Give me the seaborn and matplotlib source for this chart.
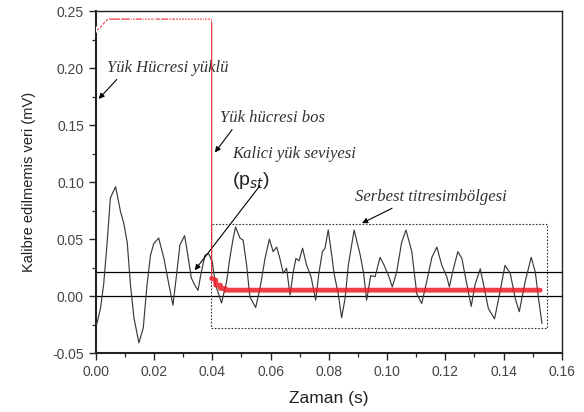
import numpy as np
import pandas as pd
import matplotlib
matplotlib.use('Agg')
import matplotlib.pyplot as plt
from matplotlib.patches import Rectangle
from matplotlib.ticker import MultipleLocator
import seaborn as sns

# black signal (time s, value mV)
sig_t = [0.0000, 0.0004, 0.0016, 0.0027, 0.0039, 0.0050, 0.0068, 0.0085, 0.0096, 0.0108,
         0.0119, 0.0131, 0.0148, 0.0163, 0.0176, 0.0188, 0.0199, 0.0216, 0.0234, 0.0245,
         0.0265, 0.0277, 0.0289, 0.0305, 0.0316, 0.0328, 0.0339, 0.0351, 0.0360, 0.0375,
         0.0388, 0.0400, 0.0411, 0.0432, 0.0449, 0.0460, 0.0472, 0.0480, 0.0495, 0.0506,
         0.0518, 0.0529, 0.0549, 0.0564, 0.0581, 0.0596, 0.0609, 0.0621, 0.0632, 0.0644,
         0.0655, 0.0667, 0.0678, 0.0687, 0.0698, 0.0710, 0.0724, 0.0739, 0.0755, 0.0766,
         0.0778, 0.0787, 0.0798, 0.0810, 0.0818, 0.0833, 0.0844, 0.0856, 0.0867, 0.0887,
         0.0907, 0.0919, 0.0930, 0.0944, 0.0959, 0.0976, 0.0990, 0.1005, 0.1018, 0.1033,
         0.1050, 0.1065, 0.1085, 0.1102, 0.1119, 0.1136, 0.1154, 0.1171, 0.1188, 0.1205,
         0.1214, 0.1225, 0.1243, 0.1257, 0.1268, 0.1289, 0.1302, 0.1320, 0.1334, 0.1348,
         0.1369, 0.1388, 0.1405, 0.1423, 0.1440, 0.1454, 0.1474, 0.1495, 0.1509, 0.1520,
         0.1532]
sig_v = [-0.025, -0.024, -0.011, 0.010, 0.047, 0.086, 0.096, 0.074, 0.064, 0.047,
         0.010, -0.019, -0.041, -0.028, 0.010, 0.036, 0.046, 0.051, 0.033, 0.018,
         -0.008, 0.018, 0.045, 0.053, 0.036, 0.016, 0.010, 0.005, 0.018, 0.036,
         0.037, 0.030, 0.010, -0.006, 0.0125, 0.033, 0.051, 0.0606, 0.051, 0.049,
         0.027, -0.0006, -0.010, 0.007, 0.033, 0.050, 0.039, 0.043, 0.033, 0.020,
         0.0245, 0.001, 0.021, 0.033, 0.031, 0.042, 0.027, 0.017, -0.0035, 0.020,
         0.039, 0.042, 0.058, 0.036, 0.020, 0.001, -0.019, -0.002, 0.027, 0.058,
         0.037, 0.021, -0.0035, 0.018, 0.017, 0.034, 0.027, 0.018, 0.008, 0.021,
         0.047, 0.058, 0.039, 0.002, -0.0065, 0.0125, 0.034, 0.043, 0.027, 0.017,
         0.008, 0.021, 0.039, 0.033, 0.018, -0.009, 0.010, 0.024, 0.0067, -0.011,
         -0.020, 0.004, 0.027, 0.020, -0.002, -0.0137, 0.0125, 0.034, 0.021, -0.002,
         -0.024]

# red: load cell loaded, then dropped to residual level
red_hi_t = [0.0000, 0.0010, 0.0020, 0.0030, 0.0042, 0.0082, 0.0117, 0.0125, 0.0134, 0.0157,
            0.0165, 0.0175, 0.0185, 0.0195, 0.0205, 0.0220, 0.0248, 0.0258, 0.0271, 0.0282,
            0.0292, 0.0302, 0.0312, 0.0323, 0.0333, 0.0343, 0.0353, 0.0363, 0.0373, 0.0383,
            0.0392, 0.0398, 0.0398]
red_hi_v = [0.234, 0.234, 0.237, 0.240, 0.243, 0.243, 0.243, 0.243, 0.243, 0.243,
            0.243, 0.243, 0.243, 0.243, 0.243, 0.243, 0.243, 0.243, 0.243, 0.243,
            0.243, 0.243, 0.243, 0.243, 0.243, 0.243, 0.243, 0.243, 0.243, 0.243,
            0.243, 0.243, 0.0155]
red_lo_t = [0.0398, 0.0412, 0.0412, 0.0428, 0.0428, 0.0445, 0.0445, 0.1526]
red_lo_v = [0.0155, 0.0140, 0.0096, 0.0096, 0.0067, 0.0067, 0.0052, 0.0052]

ref_levels = [0.0, 0.021]
box_t = [0.0394, 0.155]
box_v = [-0.028, 0.063]

x_ticks = [0.00, 0.02, 0.04, 0.06, 0.08, 0.10, 0.12, 0.14, 0.16]
y_ticks = [-0.05, 0.00, 0.05, 0.10, 0.15, 0.20, 0.25]

sns.set_style('white')
plt.rcParams['font.family'] = ['Liberation Sans', 'DejaVu Sans']

fig, ax = plt.subplots(figsize=(5.84, 4.12), dpi=100)
fig.subplots_adjust(left=0.164, right=0.962, bottom=0.143, top=0.973)

sig = pd.DataFrame({'t': sig_t, 'v': sig_v})
hi = pd.DataFrame({'t': red_hi_t, 'v': red_hi_v})
lo = pd.DataFrame({'t': red_lo_t, 'v': red_lo_v})

for lv in ref_levels:
    ax.axhline(lv, color='black', lw=0.9, zorder=1)

sns.lineplot(data=sig, x='t', y='v', estimator=None, sort=False, color='#3a3a3a', lw=0.85,
             solid_joinstyle='round', ax=ax, zorder=3)
sns.lineplot(data=hi, x='t', y='v', estimator=None, sort=False, color='#e8202a', lw=0.8,
             marker='|', markersize=4, markeredgewidth=1.0, ax=ax, zorder=4)
sns.lineplot(data=lo, x='t', y='v', estimator=None, sort=False, color='#ee1c25', lw=3.5,
             alpha=0.85, ax=ax, zorder=4)

ax.add_patch(Rectangle((box_t[0], box_v[0]), box_t[1] - box_t[0], box_v[1] - box_v[0],
                       fill=False, ls=(0, (1.5, 1.5)), lw=0.8, color='#333333', zorder=2))

# annotations
tfont = dict(family='Liberation Serif', style='italic', size=12, color='#333333')
ax.text(0.0038, 0.200, 'Yük Hücresi yüklü', va='center', ha='left', **tfont)
ax.text(0.0426, 0.156, 'Yük hücresi bos', va='center', ha='left', **tfont)
ax.text(0.0467, 0.125, 'Kalici yük seviyesi', va='center', ha='left', **tfont)
ax.text(0.0467, 0.101, '(p$_{st}$)', va='center', ha='left', fontsize=14, color='#222222')
ax.text(0.0890, 0.0866, 'Serbest titresimbölgesi', va='center', ha='left', **tfont)

arr = dict(arrowstyle='-|>', color='black', lw=0.8, mutation_scale=8, shrinkA=0, shrinkB=0)
ax.annotate('', xy=(0.0010, 0.173), xytext=(0.0072, 0.190), arrowprops=arr)
ax.annotate('', xy=(0.0409, 0.126), xytext=(0.0468, 0.146), arrowprops=arr)
ax.annotate('', xy=(0.0340, 0.0227), xytext=(0.0564, 0.097), arrowprops=arr)
ax.annotate('', xy=(0.0914, 0.064), xytext=(0.1017, 0.077), arrowprops=arr)

ax.set_xlim(0, 0.16)
ax.set_ylim(-0.05, 0.25)
ax.set_xticks(x_ticks)
ax.set_yticks(y_ticks)
ax.set_xticklabels([f'{v:.2f}' for v in x_ticks])
ax.set_yticklabels([f'{v:.2f}' for v in y_ticks])
ax.xaxis.set_minor_locator(MultipleLocator(0.01))
ax.yaxis.set_minor_locator(MultipleLocator(0.025))
ax.tick_params(which='major', direction='out', length=5, width=1.0, labelsize=10,
               labelcolor='#444444', bottom=True, left=True, top=False, right=False)
ax.tick_params(which='minor', direction='out', length=3, width=0.9,
               bottom=True, left=True, top=False, right=False)

for side in ['left', 'bottom']:
    ax.spines[side].set_linewidth(1.5)
    ax.spines[side].set_color('#222222')
for side in ['top', 'right']:
    ax.spines[side].set_linewidth(1.0)
    ax.spines[side].set_color('#222222')

ax.set_xlabel('Zaman (s)', fontsize=12.5, color='#222222', labelpad=9)
ax.set_ylabel('Kalibre edilmemis veri (mV)', fontsize=10.5, color='#222222', labelpad=12)

plt.savefig('out.png', dpi=100)
